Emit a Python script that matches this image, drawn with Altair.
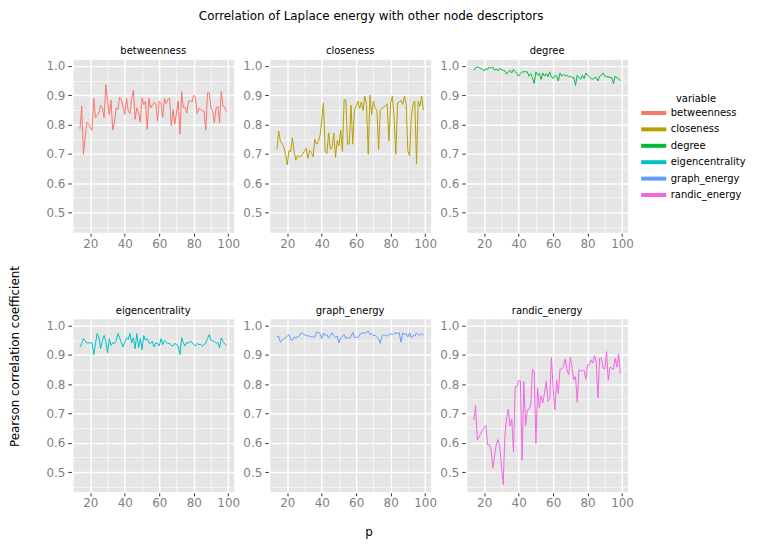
import altair as alt
import pandas as pd

p_values = list(range(14, 100))

betweenness = [0.784, 0.863, 0.699, 0.755, 0.808, 0.801, 0.789, 0.780, 0.889, 0.823,
               0.831, 0.840, 0.865, 0.857, 0.823, 0.936, 0.880, 0.834, 0.883, 0.781,
               0.806, 0.857, 0.851, 0.893, 0.885, 0.859, 0.834, 0.891, 0.846, 0.838,
               0.889, 0.917, 0.818, 0.857, 0.840, 0.808, 0.891, 0.868, 0.880, 0.784,
               0.889, 0.857, 0.866, 0.877, 0.871, 0.812, 0.880, 0.874, 0.825, 0.889,
               0.871, 0.885, 0.891, 0.795, 0.851, 0.801, 0.840, 0.880, 0.767, 0.911,
               0.857, 0.859, 0.840, 0.880, 0.882, 0.877, 0.900, 0.893, 0.837, 0.855,
               0.851, 0.846, 0.846, 0.781, 0.908, 0.908, 0.857, 0.844, 0.806, 0.857,
               0.863, 0.806, 0.914, 0.863, 0.859, 0.844]

closeness = [0.716, 0.778, 0.744, 0.735, 0.724, 0.699, 0.663, 0.712, 0.708, 0.755,
             0.705, 0.679, 0.695, 0.690, 0.690, 0.701, 0.710, 0.719, 0.685, 0.712,
             0.705, 0.690, 0.750, 0.733, 0.742, 0.761, 0.812, 0.874, 0.712, 0.701,
             0.772, 0.716, 0.721, 0.770, 0.688, 0.746, 0.727, 0.781, 0.708, 0.885,
             0.883, 0.733, 0.735, 0.866, 0.733, 0.851, 0.863, 0.880, 0.855, 0.877,
             0.848, 0.897, 0.868, 0.699, 0.900, 0.834, 0.880, 0.855, 0.851, 0.716,
             0.851, 0.855, 0.859, 0.866, 0.871, 0.744, 0.874, 0.897, 0.823, 0.699,
             0.874, 0.877, 0.882, 0.868, 0.897, 0.871, 0.710, 0.693, 0.829, 0.868,
             0.880, 0.667, 0.880, 0.863, 0.897, 0.848]

degree = [0.985, 0.994, 0.997, 0.994, 0.991, 0.988, 0.983, 0.991, 0.988, 0.997,
          0.991, 0.997, 0.985, 0.991, 0.983, 0.991, 0.988, 0.985, 0.983, 0.972,
          0.980, 0.985, 0.976, 0.988, 0.980, 0.974, 0.965, 0.974, 0.980, 0.980,
          0.980, 0.980, 0.965, 0.974, 0.960, 0.940, 0.980, 0.968, 0.974, 0.954,
          0.976, 0.965, 0.974, 0.963, 0.980, 0.963, 0.957, 0.968, 0.965, 0.949,
          0.976, 0.965, 0.972, 0.965, 0.968, 0.963, 0.965, 0.960, 0.960, 0.934,
          0.968, 0.960, 0.954, 0.968, 0.957, 0.976, 0.968, 0.963, 0.957, 0.954,
          0.960, 0.960, 0.949, 0.965, 0.968, 0.976, 0.965, 0.963, 0.963, 0.960,
          0.960, 0.940, 0.965, 0.960, 0.957, 0.949]

eigencentrality = [0.926, 0.939, 0.955, 0.947, 0.941, 0.941, 0.941, 0.941, 0.901, 0.939,
                   0.973, 0.958, 0.921, 0.950, 0.966, 0.947, 0.907, 0.955, 0.932, 0.941,
                   0.939, 0.947, 0.973, 0.958, 0.941, 0.927, 0.943, 0.958, 0.952, 0.973,
                   0.941, 0.958, 0.921, 0.973, 0.924, 0.955, 0.918, 0.966, 0.950, 0.955,
                   0.941, 0.939, 0.947, 0.927, 0.941, 0.939, 0.930, 0.955, 0.935, 0.950,
                   0.943, 0.939, 0.939, 0.932, 0.930, 0.939, 0.935, 0.930, 0.901, 0.958,
                   0.941, 0.930, 0.943, 0.939, 0.947, 0.943, 0.935, 0.930, 0.939, 0.935,
                   0.935, 0.930, 0.935, 0.940, 0.955, 0.969, 0.950, 0.948, 0.945, 0.940,
                   0.943, 0.924, 0.958, 0.945, 0.938, 0.932]

graph_energy = [0.961, 0.964, 0.943, 0.950, 0.955, 0.958, 0.964, 0.969, 0.952, 0.950,
                0.961, 0.958, 0.961, 0.964, 0.975, 0.973, 0.969, 0.966, 0.964, 0.964,
                0.961, 0.961, 0.961, 0.977, 0.977, 0.973, 0.955, 0.975, 0.966, 0.969,
                0.958, 0.964, 0.975, 0.966, 0.958, 0.964, 0.941, 0.958, 0.964, 0.969,
                0.955, 0.961, 0.955, 0.964, 0.977, 0.958, 0.961, 0.958, 0.969, 0.973,
                0.975, 0.973, 0.977, 0.981, 0.969, 0.973, 0.966, 0.966, 0.961, 0.955,
                0.939, 0.964, 0.969, 0.966, 0.964, 0.969, 0.973, 0.969, 0.973, 0.975,
                0.973, 0.975, 0.943, 0.975, 0.969, 0.973, 0.961, 0.975, 0.958, 0.966,
                0.964, 0.975, 0.969, 0.966, 0.973, 0.966]

randic_energy = [0.677, 0.727, 0.609, 0.620, 0.632, 0.643, 0.651, 0.659, 0.594, 0.594,
                 0.577, 0.515, 0.555, 0.594, 0.611, 0.589, 0.521, 0.458, 0.623, 0.685,
                 0.715, 0.657, 0.681, 0.568, 0.792, 0.792, 0.812, 0.812, 0.541, 0.809,
                 0.657, 0.711, 0.715, 0.727, 0.851, 0.843, 0.598, 0.787, 0.719, 0.761,
                 0.736, 0.770, 0.809, 0.741, 0.747, 0.891, 0.787, 0.713, 0.815, 0.767,
                 0.851, 0.851, 0.860, 0.885, 0.849, 0.832, 0.892, 0.855, 0.815, 0.826,
                 0.738, 0.851, 0.843, 0.847, 0.847, 0.817, 0.866, 0.866, 0.883, 0.872,
                 0.897, 0.877, 0.753, 0.889, 0.889, 0.855, 0.851, 0.911, 0.813, 0.858,
                 0.855, 0.849, 0.889, 0.858, 0.903, 0.835]

variables = ["betweenness", "closeness", "degree", "eigencentrality",
             "graph_energy", "randic_energy"]
series = [betweenness, closeness, degree, eigencentrality, graph_energy, randic_energy]
colors = ["#F8766D", "#B79F00", "#00BA38", "#00BFC4", "#619CFF", "#F564E3"]

x_ticks = [10, 20, 30, 40, 50, 60, 70, 80, 90, 100]
y_ticks = [0.45, 0.5, 0.55, 0.6, 0.65, 0.7, 0.75, 0.8, 0.85, 0.9, 0.95, 1.0]

rows = []
for name, vals in zip(variables, series):
    for p, v in zip(p_values, vals):
        rows.append({"p": p, "value": v, "variable": name})
df = pd.DataFrame(rows)

FONT = "DejaVu Sans"
X_MAJOR = "datum.value % 20 === 0"
Y_MAJOR = "round(datum.value * 100) % 10 === 0"
YTITLE = "Pearson correlation coefficient"
Y_SCALE = alt.Scale(domain=[0.433, 1.023], nice=False, zero=False)
COLOR_SCALE = alt.Scale(domain=variables, range=colors)

legend = alt.Legend(
    orient="none", legendX=634.7, legendY=34.6,
    title="variable", titleAnchor="middle",
    titleFont=FONT, titleFontSize=10, titleFontWeight="normal", titleColor="#000000",
    titlePadding=2,
    labelFont=FONT, labelFontSize=10, labelColor="#000000",
    symbolType="M-2.3,0H2.3", symbolStrokeWidth=4, symbolSize=121,
    labelOffset=9.6, rowPadding=-0.5,
)


def panel(name, xtitle=False):
    sub = df[df["variable"] == name]
    xa = dict(
        values=x_ticks,
        labelExpr=X_MAJOR + " ? datum.label : ''",
        gridWidth={"condition": {"test": X_MAJOR, "value": 1.4}, "value": 0.6},
        tickOpacity={"condition": {"test": X_MAJOR, "value": 1}, "value": 0},
        tickSize=3, offset=1, labelPadding=2,
    )
    ya = dict(
        values=y_ticks, format=".1f", title=None,
        labelExpr=Y_MAJOR + " ? datum.label : ''",
        gridWidth={"condition": {"test": Y_MAJOR, "value": 1.4}, "value": 0.6},
        tickOpacity={"condition": {"test": Y_MAJOR, "value": 1}, "value": 0},
        tickSize=3.5, offset=1.3, labelPadding=3,
    )
    if xtitle:
        xa.update(title="p", titleX=99.5, titleY=39, titleBaseline="middle",
                  titleAlign="center")
    else:
        xa.update(title=None)
    return (
        alt.Chart(sub)
        .mark_line(strokeWidth=1)
        .encode(
            x=alt.X("p:Q", scale=alt.Scale(domain=[9.75, 103.25], nice=False, zero=False),
                    axis=alt.Axis(**xa)),
            y=alt.Y("value:Q", scale=Y_SCALE, axis=alt.Axis(**ya)),
            color=alt.Color("variable:N", scale=COLOR_SCALE, legend=legend),
        )
        .properties(width=162, height=174,
                    title=alt.TitleParams(name, fontSize=10, font=FONT,
                                          fontWeight="normal", color="#000000", offset=3))
    )


# a thin, invisible strip that only carries the shared y-axis title
ylab = (
    alt.Chart(df)
    .mark_line(opacity=0)
    .encode(
        y=alt.Y("value:Q", scale=Y_SCALE,
                axis=alt.Axis(title=YTITLE, labels=False, ticks=False, grid=False,
                              domain=False, titlePadding=0, titleY=298.5,
                              titleAngle=270, titleBaseline="middle", titleAlign="center")),
        color=alt.Color("variable:N", scale=COLOR_SCALE, legend=legend),
    )
    .properties(width=1, height=435,
                view=alt.ViewBackground(fill="#FFFFFF", stroke="transparent"))
)

top_row = alt.hconcat(
    panel("betweenness"), panel("closeness"), panel("degree"), spacing=1,
)
bottom_row = alt.hconcat(
    panel("eigencentrality"), panel("graph_energy", xtitle=True), panel("randic_energy"),
    spacing=1,
)
grid = alt.vconcat(top_row, bottom_row, spacing=55)

chart = (
    alt.hconcat(ylab, grid, spacing=23)
    .resolve_scale(y="independent")
    .properties(
        title=alt.TitleParams("Correlation of Laplace energy with other node descriptors",
                              fontSize=12, font=FONT, fontWeight="normal",
                              color="#000000", anchor="middle", offset=23, dx=-6),
        padding={"left": 0, "top": 0, "right": 5, "bottom": 0},
        background="#FFFFFF",
    )
    .configure_view(fill="#E5E5E5", stroke="transparent")
    .configure_axis(
        domain=False, gridColor="#FFFFFF", gridOpacity=1,
        labelFont=FONT, labelFontSize=12, labelColor="#808080",
        tickColor="#333333", tickWidth=1,
        titleFont=FONT, titleFontSize=12, titleFontWeight="normal", titleColor="#000000",
    )
)

chart.save("out.html", embed_options={"renderer": "svg", "actions": False})
